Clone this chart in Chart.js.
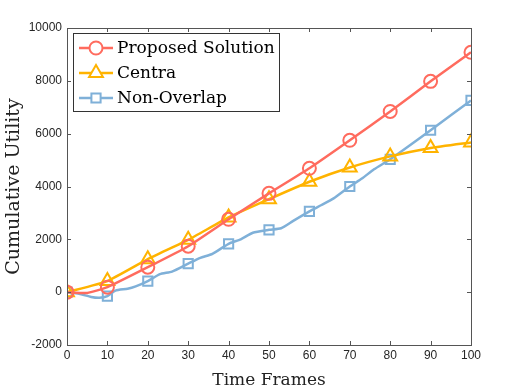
<!DOCTYPE html>
<html>
<head>
<meta charset="utf-8">
<script src="https://cdn.jsdelivr.net/npm/chart.js@4/dist/chart.umd.min.js"></script>
<style>
  html, body { margin: 0; padding: 0; background: #fff; }
  #wrap { width: 521px; height: 391px; }
</style>
</head>
<body>
<div id="wrap"><canvas id="chart" width="521" height="391"></canvas></div>
<script>
// ---- data ----
const proposedX = [0, 5, 10, 20, 30, 40, 50, 60, 70, 80, 90, 100];
const proposedY = [0, -30, 190, 945, 1740, 2760, 3740, 4690, 5750, 6840, 7980, 9080];

const centraX = [0, 10, 20, 30, 40, 50, 60, 70, 80, 90, 100];
const centraY = [0, 420, 1250, 1980, 2830, 3520, 4180, 4720, 5140, 5460, 5670];

const nonOverlapX = [0, 3, 6, 8, 10, 12, 15, 17, 20, 23, 26, 30, 33, 36, 40, 43, 46, 50, 53, 56, 60, 63, 66, 70, 73, 76, 80, 90, 100];
const nonOverlapY = [0, -60, -180, -210, -150, 60, 130, 220, 420, 680, 780, 1080, 1300, 1450, 1830, 2000, 2250, 2360, 2420, 2700, 3060, 3300, 3550, 4000, 4300, 4650, 5030, 6130, 7260];

const xTicks = [0, 10, 20, 30, 40, 50, 60, 70, 80, 90, 100];
const yTicks = [-2000, 0, 2000, 4000, 6000, 8000, 10000];

const seriesNames = ['Proposed Solution', 'Centra', 'Non-Overlap'];

function pts(xs, ys) {
  return xs.map((x, i) => ({ x: x, y: ys[i] }));
}
// marker only on every 10th frame
function markerAt10(size) {
  return ctx => (ctx.raw && ctx.raw.x % 10 === 0) ? size : 0;
}

const RED = '#ff6b5e';
const YEL = '#ffb300';
const BLU = '#7fb0d8';
const AXIS = '#555555';
const SERIF = '"DejaVu Serif", "Liberation Serif", serif';
const SANS = '"Liberation Sans", Arial, sans-serif';

// ---- frame, inward ticks and legend box ----
const framePlugin = {
  id: 'frame',
  afterDraw(chart) {
    const { ctx, chartArea: a, scales } = chart;
    ctx.save();
    ctx.strokeStyle = AXIS;
    ctx.lineWidth = 1;
    ctx.strokeRect(a.left + 0.5, a.top + 0.5, a.right - a.left, a.bottom - a.top);
    ctx.beginPath();
    xTicks.forEach(v => {
      const px = Math.round(scales.x.getPixelForValue(v)) + 0.5;
      ctx.moveTo(px, a.bottom); ctx.lineTo(px, a.bottom - 4);
      ctx.moveTo(px, a.top); ctx.lineTo(px, a.top + 4);
    });
    yTicks.forEach(v => {
      const py = Math.round(scales.y.getPixelForValue(v)) + 0.5;
      ctx.moveTo(a.left, py); ctx.lineTo(a.left + 4, py);
      ctx.moveTo(a.right, py); ctx.lineTo(a.right - 4, py);
    });
    ctx.stroke();

    // legend
    const lx = 73, ly = 33, lw = 206, lh = 78;
    ctx.fillStyle = '#fff';
    ctx.fillRect(lx, ly, lw, lh);
    ctx.strokeStyle = '#333';
    ctx.strokeRect(lx + 0.5, ly + 0.5, lw, lh);
    chart.data.datasets.forEach((ds, i) => {
      const y = ly + 15 + i * 25;
      ctx.strokeStyle = ds.borderColor;
      ctx.lineWidth = 2.5;
      ctx.beginPath();
      ctx.moveTo(lx + 6, y); ctx.lineTo(lx + 40, y);
      ctx.stroke();
      ctx.fillStyle = '#fff';
      ctx.lineWidth = 2;
      Chart.helpers.drawPoint(ctx, {
        pointStyle: ds.pointStyle, radius: ds.legendRadius, borderWidth: 2
      }, lx + 23, y);
      ctx.fillStyle = '#000';
      ctx.font = '17px ' + SERIF;
      ctx.textBaseline = 'middle';
      ctx.fillText(ds.label, lx + 44, y + 1);
    });
    ctx.restore();
  }
};

new Chart(document.getElementById('chart'), {
  type: 'line',
  data: {
    datasets: [
      {
        label: seriesNames[0], data: pts(proposedX, proposedY),
        borderColor: RED, backgroundColor: 'rgba(0,0,0,0)', borderWidth: 2.5,
        pointStyle: 'circle', pointRadius: markerAt10(6.5), pointBorderWidth: 2,
        pointBackgroundColor: 'rgba(0,0,0,0)', pointBorderColor: RED, legendRadius: 6.5,
        tension: 0.15
      },
      {
        label: seriesNames[1], data: pts(centraX, centraY),
        borderColor: YEL, backgroundColor: 'rgba(0,0,0,0)', borderWidth: 2.5,
        pointStyle: 'triangle', pointRadius: markerAt10(8), pointBorderWidth: 2,
        pointBackgroundColor: 'rgba(0,0,0,0)', pointBorderColor: YEL, legendRadius: 8,
        tension: 0.15
      },
      {
        label: seriesNames[2], data: pts(nonOverlapX, nonOverlapY),
        borderColor: BLU, backgroundColor: 'rgba(0,0,0,0)', borderWidth: 2.5,
        pointStyle: 'rect', pointRadius: markerAt10(6.5), pointBorderWidth: 2,
        pointBackgroundColor: 'rgba(0,0,0,0)', pointBorderColor: BLU, legendRadius: 6.5,
        tension: 0.2
      }
    ]
  },
  options: {
    responsive: false,
    animation: false,
    layout: { padding: { left: 0, top: 28, right: 50, bottom: 0 } },
    plugins: { legend: { display: false }, tooltip: { enabled: false } },
    scales: {
      x: {
        type: 'linear', min: 0, max: 100,
        afterBuildTicks: s => { s.ticks = xTicks.map(v => ({ value: v })); },
        afterFit: s => { s.height = 46; },
        grid: { display: false, drawTicks: false },
        border: { display: false },
        ticks: { padding: 3, color: '#262626', maxRotation: 0,
                 callback: v => String(v),
                 font: { family: SANS, size: 12 } },
        title: { display: true, text: 'Time Frames', color: '#222', padding: { top: 0, bottom: 0 },
                 font: { family: SERIF, size: 17 } }
      },
      y: {
        min: -2000, max: 10000,
        afterBuildTicks: s => { s.ticks = yTicks.map(v => ({ value: v })); },
        afterFit: s => { s.width = 67; },
        grid: { display: false, drawTicks: false },
        border: { display: false },
        ticks: { padding: 5, color: '#262626',
                 callback: v => String(v),
                 font: { family: SANS, size: 12 } },
        title: { display: true, text: 'Cumulative Utility', color: '#222', padding: { top: 3, bottom: 0 },
                 font: { family: SERIF, size: 19 } }
      }
    }
  },
  plugins: [framePlugin]
});
</script>
</body>
</html>
